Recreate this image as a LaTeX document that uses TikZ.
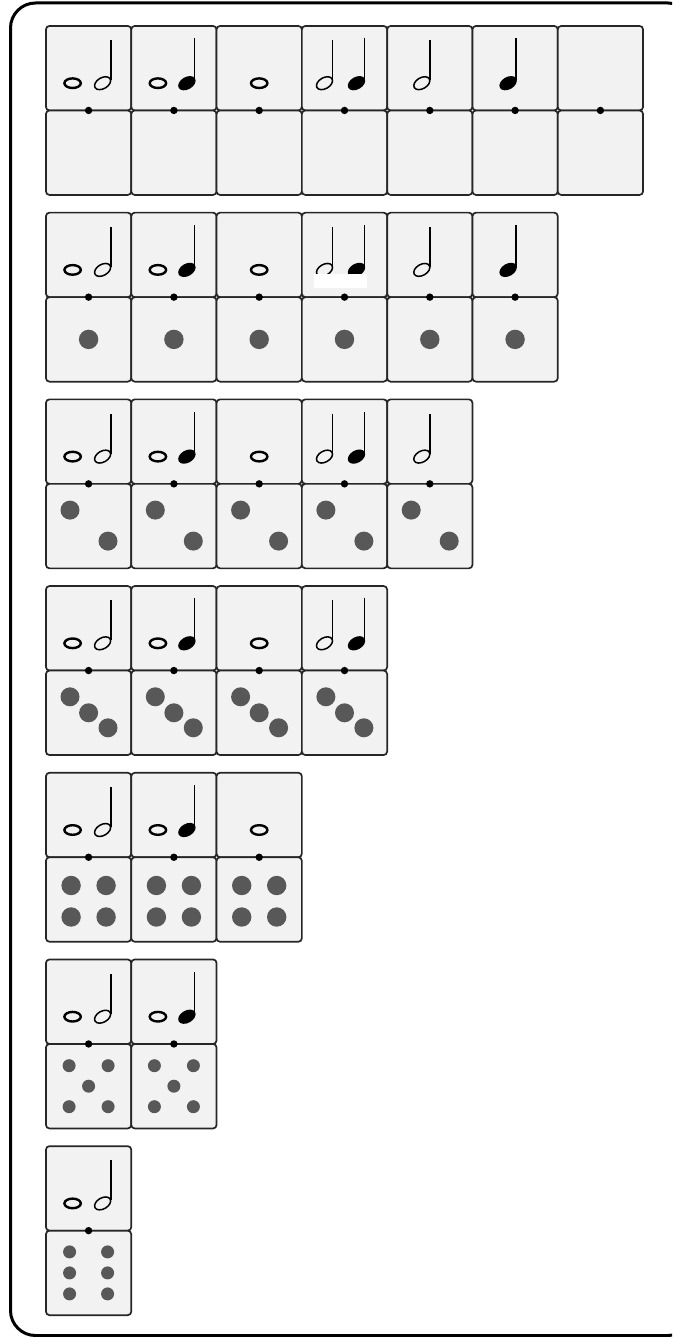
\documentclass[tikz,border=0pt]{standalone}
\usetikzlibrary{positioning,calc}
\definecolor{pipgray}{RGB}{88,88,88}

\begin{document}
\begin{tikzpicture}[x=1pt, y=-1pt,
  half/.style={draw=black!85, line width=1.7pt, rounded corners=3.5pt, fill=gray!10, minimum width=85.3pt, minimum height=84.5pt, inner sep=0pt, outer sep=0pt},
  pip/.style={fill=pipgray},
  stem/.style={line width=1.3pt, line cap=butt}]
\useasboundingbox (0,0) rectangle (672,1337);
\clip (0,0) rectangle (672,1337);
\draw[line width=3pt, rounded corners=25pt] (10.5,3) rectangle (693,1335.5);
% note heads, placed from the top half of the current domino
\def\whole#1{\draw[line width=2.4pt] ($(t-\r-\c)+(#1,15)$) ellipse [x radius=8.2, y radius=4.8];}
\def\half#1{\coordinate (h) at ($(t-\r-\c)+(#1,15)$);
  \draw[line width=1.5pt, rotate around={30:(h)}] (h) ellipse [x radius=8.7, y radius=5.5];
  \draw[stem] ($(h)+(8.3,-3)$) -- ++(0,-40);}
\def\quarter#1{\coordinate (h) at ($(t-\r-\c)+(#1,15)$);
  \fill[rotate around={30:(h)}] (h) ellipse [x radius=9.4, y radius=6.2];
  \draw[stem] ($(h)+(7.9,-3)$) -- ++(0,-42);}
% dominoes, row by row
\foreach \r in {0,...,6}{
  \pgfmathtruncatemacro\last{6-\r}
  \foreach \c in {0,...,\last}{
    \node[half] (t-\r-\c) at ({88.6+85.3*\c},{68.2+186.7*\r}) {};
    \node[half, below=0pt of t-\r-\c] (b-\r-\c) {};
    \fill (t-\r-\c.south) circle (3.7);
    \ifcase\c \whole{-16}\half{14}\or \whole{-16}\quarter{13}\or \whole{0}\or
      \half{-20}\quarter{12}\or \half{-8}\or \quarter{-7}\or \fi
  }
}
% pips on the lower halves
\foreach \r/\rad/\pips in {1/9.7/{0/0}, 2/9.5/{-18.6/-16,19.4/15}, 3/9.5/{-18.6/-16,0/0,19.4/15},
    4/9.7/{-17.5/-14,17.5/-14,-17.5/17.5,17.5/17.5}, 5/6.5/{-19.5/-20.5,19.5/-20.5,0/0,-19.5/20.5,19.5/20.5},
    6/6.5/{-19/-21,19/-21,-19/0,19/0,-19/21,19/21}}{
  \pgfmathtruncatemacro\last{6-\r}
  \foreach \c in {0,...,\last}
    \foreach \dx/\dy in \pips \fill[pip] ($(b-\r-\c)+(\dx,\dy)$) circle (\rad);
}
\fill[white] ($(t-1-3)+(-30.5,19)$) rectangle +(53,14);
\end{tikzpicture}
\end{document}
